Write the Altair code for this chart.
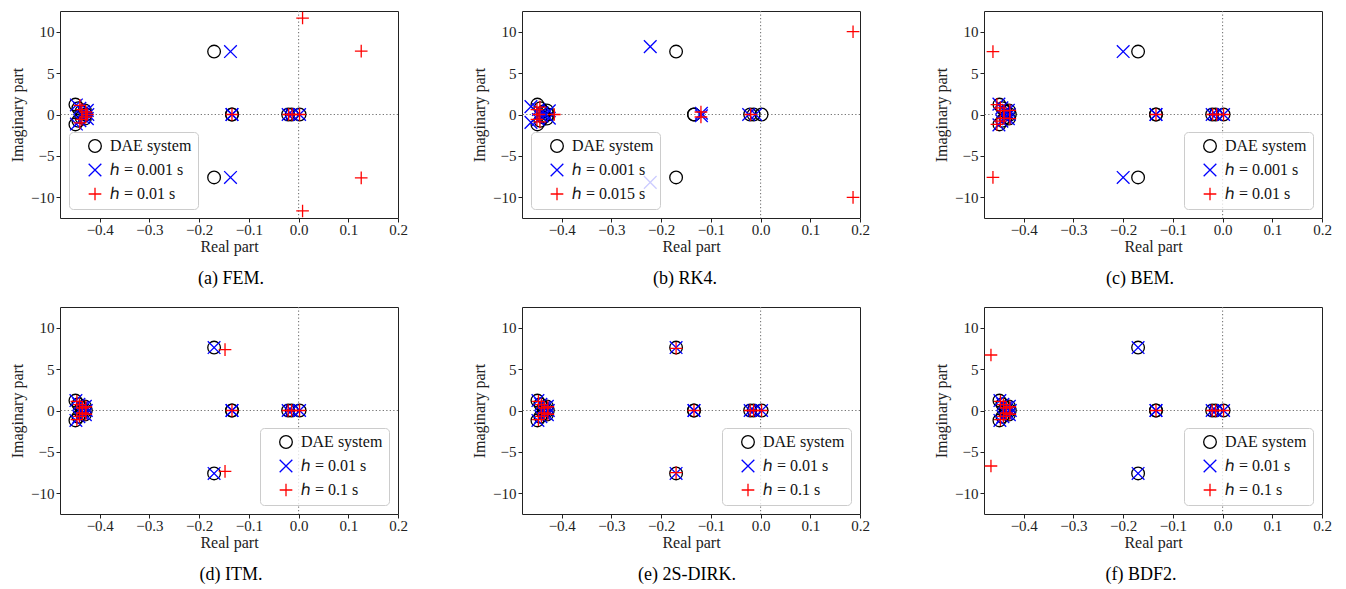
import altair as alt
import pandas as pd

# ---------------- data ----------------
X_DOMAIN = [-0.48, 0.2]
Y_DOMAIN = [-12.5, 12.5]
X_TICKS = [-0.4, -0.3, -0.2, -0.1, 0.0, 0.1, 0.2]
Y_TICKS = [-10, -5, 0, 5, 10]

DAE_LABEL = "DAE system"
DAE_RE = [-0.170, -0.170, -0.134, -0.134, -0.021, -0.014, 0.002, -0.449, -0.449, -0.443, -0.443, -0.437, -0.437, -0.430, -0.430, -0.428]
DAE_IM = [7.6, -7.6, 0.0, 0.0, 0.0, 0.0, 0.0, 1.2, -1.2, 0.75, -0.75, 0.35, -0.35, 0.5, -0.5, 0.0]

# (a) FEM
FEM_H1_LABEL = "ℎ = 0.001 s"
FEM_H1_RE = [-0.137, -0.137, -0.134, -0.134, -0.021, -0.014, 0.002, -0.447, -0.447, -0.440, -0.440, -0.433, -0.433, -0.425, -0.425, -0.424]
FEM_H1_IM = [7.6, -7.6, 0.0, 0.0, 0.0, 0.0, 0.0, 1.15, -1.15, 0.75, -0.75, 0.35, -0.35, 0.5, -0.5, 0.0]
FEM_H2_LABEL = "ℎ = 0.01 s"
FEM_H2_RE = [0.008, 0.008, 0.126, 0.126, -0.134, -0.020, -0.013, 0.002, -0.440, -0.440, -0.436, -0.436, -0.428, -0.428, -0.425]
FEM_H2_IM = [11.65, -11.65, 7.65, -7.65, 0.0, 0.0, 0.0, 0.0, 1.1, -1.0, 0.6, -0.6, 0.3, -0.3, 0.0]

# (b) RK4
RK4_H1_LABEL = "ℎ = 0.001 s"
RK4_H1_RE = [-0.222, -0.222, -0.119, -0.119, -0.024, -0.010, -0.462, -0.462, -0.447, -0.447, -0.440, -0.440, -0.425, -0.425, -0.432]
RK4_H1_IM = [8.2, -8.2, 0.15, -0.15, 0.0, 0.0, 0.95, -0.95, 0.6, -0.6, 0.2, -0.2, 0.45, -0.45, 0.0]
RK4_H2_LABEL = "ℎ = 0.015 s"
RK4_H2_RE = [0.186, 0.186, -0.120, -0.120, -0.020, -0.450, -0.450, -0.444, -0.444, -0.446, -0.415]
RK4_H2_IM = [10.0, -10.0, 0.3, -0.3, 0.0, 0.6, -0.6, 0.9, -0.9, 0.0, 0.0]

# (c) BEM
BEM_H1_LABEL = "ℎ = 0.001 s"
BEM_H1_RE = [-0.200, -0.200, -0.134, -0.134, -0.021, -0.014, 0.002, -0.450, -0.450, -0.444, -0.444, -0.438, -0.438, -0.431, -0.431, -0.429]
BEM_H1_IM = [7.6, -7.6, 0.0, 0.0, 0.0, 0.0, 0.0, 1.25, -1.25, 0.8, -0.8, 0.35, -0.35, 0.5, -0.5, 0.0]
BEM_H2_LABEL = "ℎ = 0.01 s"
BEM_H2_RE = [-0.462, -0.462, -0.134, -0.020, -0.012, 0.002, -0.454, -0.454, -0.447, -0.447, -0.440, -0.440, -0.428, -0.428]
BEM_H2_IM = [7.6, -7.6, 0.0, 0.0, 0.0, 0.0, 1.2, -1.2, 0.8, -0.8, 0.45, -0.45, 0.5, -0.5]

# (d) ITM
ITM_H1_LABEL = "ℎ = 0.01 s"
ITM_H1_RE = [-0.170, -0.170, -0.134, -0.134, -0.021, -0.014, 0.002, -0.448, -0.448, -0.442, -0.442, -0.436, -0.436, -0.429, -0.429, -0.427]
ITM_H1_IM = [7.6, -7.6, 0.0, 0.0, 0.0, 0.0, 0.0, 1.2, -1.2, 0.75, -0.75, 0.35, -0.35, 0.5, -0.5, 0.0]
ITM_H2_LABEL = "ℎ = 0.1 s"
ITM_H2_RE = [-0.148, -0.148, -0.134, -0.021, -0.014, 0.002, -0.446, -0.446, -0.441, -0.441, -0.435, -0.435, -0.428, -0.428]
ITM_H2_IM = [7.35, -7.35, 0.0, 0.0, 0.0, 0.0, 1.1, -1.1, 0.7, -0.7, 0.3, -0.3, 0.45, -0.45]

# (e) 2S-DIRK
DIRK_H1_LABEL = "ℎ = 0.01 s"
DIRK_H1_RE = [-0.170, -0.170, -0.134, -0.134, -0.021, -0.014, 0.002, -0.448, -0.448, -0.442, -0.442, -0.436, -0.436, -0.429, -0.429, -0.427]
DIRK_H1_IM = [7.6, -7.6, 0.0, 0.0, 0.0, 0.0, 0.0, 1.2, -1.2, 0.75, -0.75, 0.35, -0.35, 0.5, -0.5, 0.0]
DIRK_H2_LABEL = "ℎ = 0.1 s"
DIRK_H2_RE = [-0.170, -0.170, -0.134, -0.021, -0.014, 0.002, -0.447, -0.447, -0.441, -0.441, -0.435, -0.435, -0.428, -0.428]
DIRK_H2_IM = [7.5, -7.5, 0.0, 0.0, 0.0, 0.0, 1.1, -1.1, 0.7, -0.7, 0.3, -0.3, 0.45, -0.45]

# (f) BDF2
BDF_H1_LABEL = "ℎ = 0.01 s"
BDF_H1_RE = [-0.170, -0.170, -0.134, -0.134, -0.021, -0.014, 0.002, -0.448, -0.448, -0.442, -0.442, -0.436, -0.436, -0.429, -0.429, -0.427]
BDF_H1_IM = [7.6, -7.6, 0.0, 0.0, 0.0, 0.0, 0.0, 1.2, -1.2, 0.75, -0.75, 0.35, -0.35, 0.5, -0.5, 0.0]
BDF_H2_LABEL = "ℎ = 0.1 s"
BDF_H2_RE = [-0.466, -0.466, -0.134, -0.021, -0.014, 0.002, -0.447, -0.447, -0.441, -0.441, -0.435, -0.435, -0.428, -0.428]
BDF_H2_IM = [6.7, -6.7, 0.0, 0.0, 0.0, 0.0, 1.1, -1.1, 0.7, -0.7, 0.3, -0.3, 0.45, -0.45]

CAPTIONS = ["(a) FEM.", "(b) RK4.", "(c) BEM.", "(d) ITM.", "(e) 2S-DIRK.", "(f) BDF2."]

# ---------------- styling ----------------
SERIF = "Liberation Serif"
COLORS = ["#000000", "#0000ff", "#ff0000"]
X_PATH = "M-1,-1L1,1M-1,1L1,-1"
PLUS_PATH = "M-1,0L1,0M0,-1L0,1"
SHAPES = ["circle", X_PATH, PLUS_PATH]
W, H = 338, 207


def panel(h1_label, h1_re, h1_im, h2_label, h2_re, h2_im, legend_orient, caption, cap_dx):
    rows = []
    for r, i in zip(DAE_RE, DAE_IM):
        rows.append({"re": r, "im": i, "series": DAE_LABEL})
    for r, i in zip(h1_re, h1_im):
        rows.append({"re": r, "im": i, "series": h1_label})
    for r, i in zip(h2_re, h2_im):
        rows.append({"re": r, "im": i, "series": h2_label})
    df = pd.DataFrame(rows)
    domain = [DAE_LABEL, h1_label, h2_label]

    xs = alt.Scale(domain=X_DOMAIN, nice=False, zero=False)
    ys = alt.Scale(domain=Y_DOMAIN, nice=False, zero=False)
    x_axis = alt.Axis(values=X_TICKS, format=".1f", title="Real part",
                      labelPadding=0, titlePadding=1, labelFlush=False)
    y_axis = alt.Axis(values=Y_TICKS, format="d", title="Imaginary part", labelFlush=False,
                      labelPadding=2, titlePadding=7, minExtent=28, maxExtent=28)

    legend = alt.Legend(orient=legend_orient, title=None, offset=9)
    pts = alt.Chart(df).mark_point(filled=False, size=160, strokeWidth=1.3, opacity=1).encode(
        x=alt.X("re:Q", scale=xs, axis=x_axis),
        y=alt.Y("im:Q", scale=ys, axis=y_axis),
        color=alt.Color("series:N", scale=alt.Scale(domain=domain, range=COLORS), legend=legend),
        shape=alt.Shape("series:N", scale=alt.Scale(domain=domain, range=SHAPES), legend=legend),
    )
    one = pd.DataFrame({"z": [0.0]})
    vline = alt.Chart(one).mark_rule(color="#777777", strokeDash=[1.3, 2.2], strokeWidth=1.1).encode(
        x=alt.X("z:Q", scale=xs, axis=x_axis))
    hline = alt.Chart(one).mark_rule(color="#777777", strokeDash=[1.3, 2.2], strokeWidth=1.1).encode(
        y=alt.Y("z:Q", scale=ys, axis=y_axis))
    return alt.layer(vline, hline, pts).properties(
        width=W, height=H,
        title=alt.TitleParams(caption, orient="bottom", anchor="middle", font=SERIF,
                              fontSize=18, fontWeight="normal", color="#000000",
                              baseline="top", offset=16, dx=cap_dx),
    )


pa = panel(FEM_H1_LABEL, FEM_H1_RE, FEM_H1_IM, FEM_H2_LABEL, FEM_H2_RE, FEM_H2_IM, "bottom-left", CAPTIONS[0], 2)
pb = panel(RK4_H1_LABEL, RK4_H1_RE, RK4_H1_IM, RK4_H2_LABEL, RK4_H2_RE, RK4_H2_IM, "bottom-left", CAPTIONS[1], -6)
pc = panel(BEM_H1_LABEL, BEM_H1_RE, BEM_H1_IM, BEM_H2_LABEL, BEM_H2_RE, BEM_H2_IM, "bottom-right", CAPTIONS[2], -13)
pd_ = panel(ITM_H1_LABEL, ITM_H1_RE, ITM_H1_IM, ITM_H2_LABEL, ITM_H2_RE, ITM_H2_IM, "bottom-right", CAPTIONS[3], 2)
pe = panel(DIRK_H1_LABEL, DIRK_H1_RE, DIRK_H1_IM, DIRK_H2_LABEL, DIRK_H2_RE, DIRK_H2_IM, "bottom-right", CAPTIONS[4], -4)
pf = panel(BDF_H1_LABEL, BDF_H1_RE, BDF_H1_IM, BDF_H2_LABEL, BDF_H2_RE, BDF_H2_IM, "bottom-right", CAPTIONS[5], -12)

HSP = 62
row1 = alt.hconcat(pa, pb, pc, spacing=HSP).resolve_scale(color="independent", shape="independent")
row2 = alt.hconcat(pd_, pe, pf, spacing=HSP).resolve_scale(color="independent", shape="independent")

chart = alt.vconcat(row1, row2, spacing=16).resolve_scale(
    color="independent", shape="independent"
).properties(
    padding={"left": 0, "top": 0, "right": 0, "bottom": 0}
).configure(
    font=SERIF,
).configure_axis(
    labelFont=SERIF, labelFontSize=15, labelColor="#222222",
    titleFont=SERIF, titleFontSize=16, titleFontWeight="normal", titleColor="#222222",
    tickColor="#222222", tickSize=4, tickWidth=1, domain=False, grid=False,
).configure_view(
    stroke="#222222", strokeWidth=1,
).configure_legend(
    padding=6, symbolOffset=12, labelOffset=7, rowPadding=6,
    fillColor="rgba(255,255,255,0.8)", strokeColor="#cccccc", cornerRadius=4,
    labelFont=SERIF, labelFontSize=16, labelColor="#111111",
    symbolSize=160, symbolStrokeWidth=1.3,
)

chart.save("out.html", embed_options={"renderer": "svg", "actions": False})
